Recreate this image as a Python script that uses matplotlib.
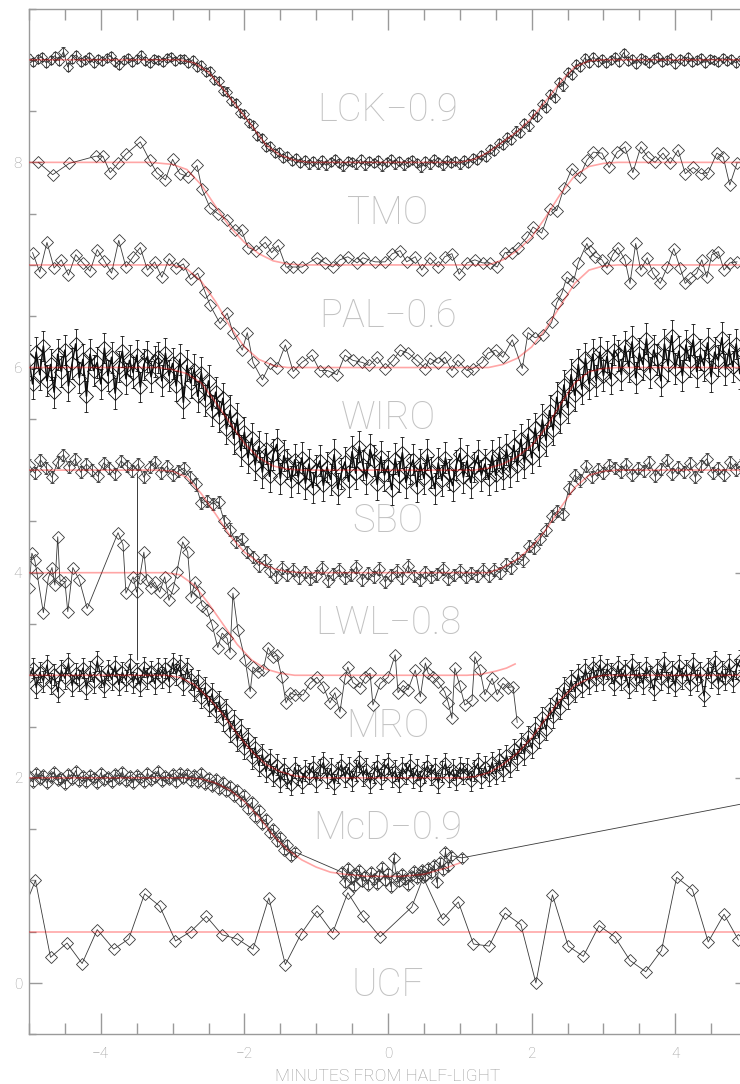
import numpy as np
import matplotlib
matplotlib.use('Agg')
import matplotlib.pyplot as plt
from matplotlib.ticker import MultipleLocator, FixedLocator

# ---------------- data ----------------
# LCK (offset -0.9), uniform sampling
LCK_t0, LCK_dt = -5.0, 0.06
LCK_y = [9.02, 8.98, 9.01, 9.03, 8.97, 9.00, 9.04, 8.99, 9.08, 8.93, 9.01, 9.05, 8.98, 9.00, 9.03, 8.97,
         9.01, 8.99, 9.02, 9.04, 8.98, 8.95, 9.00, 9.02, 8.98, 9.01, 9.05, 8.99, 8.97, 9.01, 9.00, 8.98,
         9.02, 9.03, 8.99, 9.01,
         9.01, 8.97, 9.00, 8.93, 8.95, 8.88, 8.89, 8.80, 8.79, 8.70, 8.69, 8.60, 8.58, 8.48, 8.47, 8.38,
         8.36, 8.26, 8.24, 8.15, 8.16, 8.09, 8.10, 8.04, 8.06, 8.01, 8.04, 7.99, 8.02, 7.98,
         8.01, 7.98, 8.02, 7.97, 8.00, 8.03, 7.99, 7.96, 8.01, 8.00, 7.98, 8.03, 7.97, 8.01, 7.99, 8.02,
         7.96, 8.00, 8.03, 7.98, 8.01, 7.97, 8.00, 8.02, 7.99, 7.95, 8.01, 7.98, 8.03, 8.00, 7.97, 8.02,
         7.99, 8.01, 7.98,
         8.02, 7.99, 8.04, 8.02, 8.07, 8.05, 8.13, 8.11, 8.19, 8.17, 8.25, 8.22, 8.31, 8.29, 8.38, 8.35,
         8.47, 8.44, 8.57, 8.53, 8.67, 8.63, 8.78, 8.74, 8.88, 8.85, 8.96, 8.93, 9.02, 8.97, 9.03, 8.98,
         9.01, 8.97,
         9.00, 9.03, 8.98, 9.07, 8.99, 9.01, 8.96, 9.02, 9.00, 8.97, 9.01, 9.03, 8.98, 9.00, 9.02, 8.96,
         9.01, 8.99, 9.03, 8.98, 9.00, 9.02, 8.97, 9.01, 9.00, 8.98, 9.02, 8.99, 9.01, 8.97, 9.00, 9.02]
LCK_mx = [-5.0, -2.9, -2.7, -2.5, -2.3, -2.1, -1.9, -1.7, -1.5, -1.3, -1.1, 1.0, 1.2, 1.4, 1.6, 1.8,
          2.0, 2.2, 2.4, 2.6, 2.8, 3.0, 5.0]
LCK_my = [9.0, 9.0, 8.97, 8.88, 8.72, 8.54, 8.36, 8.17, 8.07, 8.02, 8.0, 8.0, 8.03, 8.1, 8.2, 8.3,
          8.43, 8.6, 8.78, 8.93, 8.99, 9.0, 9.0]

# TMO
TMO_x = [-4.87, -4.67, -4.44, -4.07, -3.97, -3.87, -3.76, -3.65, -3.45, -3.32, -3.22, -3.10, -3.00,
         -2.90, -2.78, -2.66, -2.59, -2.48, -2.37, -2.24, -2.13, -2.04, -1.95, -1.84, -1.71, -1.62,
         -1.53, -1.42, -1.32, -1.20, -0.99, -0.88, -0.77, -0.67, -0.56, -0.43, -0.35, -0.18, -0.04,
         0.06, 0.17, 0.26, 0.38, 0.47, 0.58, 0.70, 0.79, 0.89, 0.99, 1.10, 1.21, 1.32, 1.42, 1.52,
         1.63, 1.73, 1.81, 1.94, 2.02, 2.14, 2.26, 2.35, 2.45, 2.56, 2.67, 2.77, 2.86, 2.98, 3.08,
         3.19, 3.30, 3.41, 3.52, 3.62, 3.72, 3.83, 3.93, 4.04, 4.14, 4.25, 4.36, 4.46, 4.58, 4.67,
         4.76, 4.86]
TMO_y = [8.00, 7.88, 7.99, 8.06, 8.06, 7.90, 7.99, 8.08, 8.20, 8.02, 7.90, 7.83, 8.03, 7.89, 7.86,
         7.97, 7.74, 7.56, 7.50, 7.44, 7.34, 7.34, 7.17, 7.14, 7.22, 7.12, 7.19, 6.98, 6.98, 6.98,
         7.07, 7.02, 6.98, 7.05, 7.08, 7.02, 7.07, 7.03, 7.03, 7.11, 7.14, 7.03, 7.08, 6.95, 7.07,
         6.98, 7.08, 7.11, 6.91, 7.02, 7.05, 7.02, 7.02, 6.98, 7.12, 7.12, 7.17, 7.27, 7.37, 7.31,
         7.55, 7.53, 7.75, 7.94, 7.86, 8.02, 8.10, 8.09, 7.95, 8.10, 8.15, 7.90, 8.15, 8.05, 8.00,
         8.09, 7.99, 8.12, 7.89, 7.95, 7.89, 7.90, 8.09, 8.05, 7.78, 7.99]
TMO_mx = [-5.0, -3.3, -3.0, -2.8, -2.6, -2.4, -2.2, -2.0, -1.8, -1.6, -1.4, -1.2, 1.4, 1.6, 1.8, 2.0,
          2.2, 2.4, 2.6, 2.8, 3.0, 3.2, 5.0]
TMO_my = [8.0, 8.0, 7.98, 7.93, 7.78, 7.57, 7.37, 7.22, 7.11, 7.04, 7.01, 7.0, 7.0, 7.05, 7.14, 7.27,
          7.47, 7.69, 7.87, 7.96, 7.99, 8.0, 8.0]

# PAL (offset -0.6)
PAL_x = [-4.95, -4.85, -4.75, -4.65, -4.55, -4.45, -4.35, -4.25, -4.15, -4.05, -3.95, -3.85, -3.75,
         -3.65, -3.55, -3.45, -3.35, -3.25, -3.15, -3.05, -2.95, -2.85, -2.75, -2.65, -2.55,
         -2.48, -2.34, -2.24, -2.16, -2.03, -1.96, -1.88, -1.75, -1.64, -1.55, -1.43, -1.32, -1.20,
         -1.06, -0.95, -0.84, -0.71, -0.60, -0.49, -0.36, -0.26,
         -0.15, -0.04, 0.07, 0.17, 0.28, 0.40, 0.52, 0.58, 0.70, 0.79, 0.89, 0.97, 1.10, 1.18, 1.31,
         1.39, 1.50, 1.60, 1.73, 1.87, 1.95, 2.05, 2.16, 2.28, 2.35, 2.42, 2.49, 2.58, 2.65, 2.77,
         2.81, 2.88, 2.98, 3.05, 3.13, 3.20, 3.30, 3.37, 3.45, 3.52, 3.61, 3.69, 3.79, 3.89, 3.98,
         4.07, 4.14, 4.21, 4.30, 4.37, 4.44, 4.51, 4.60, 4.68, 4.76, 4.86]
PAL_y = [7.12, 6.93, 7.22, 6.97, 7.05, 6.90, 7.10, 7.02, 6.94, 7.15, 7.04, 6.92, 7.24, 6.98, 7.08,
         7.17, 6.95, 7.03, 6.88, 7.06, 6.97, 7.01, 6.86, 6.92, 6.74,
         6.61, 6.43, 6.53, 6.34, 6.17, 6.34, 6.05, 5.88, 6.04, 6.00, 6.22, 5.96, 6.05, 6.12, 5.97,
         5.97, 5.93, 6.12, 6.07, 6.05, 6.02,
         6.10, 5.99, 6.07, 6.17, 6.14, 6.07, 5.99, 6.09, 6.04, 6.10, 5.97, 6.07, 5.97, 5.99, 6.05,
         6.14, 6.17, 6.10, 6.27, 5.99, 6.34, 6.29, 6.32, 6.44, 6.63, 6.72, 6.88, 6.83, 7.02, 7.21,
         7.14, 7.08, 7.05, 6.97, 7.10, 7.17, 7.05, 6.82, 7.21, 6.95, 7.07, 6.92, 6.82, 6.98, 7.16,
         6.97, 6.82, 6.87, 6.92, 7.05, 6.88, 7.10, 7.13, 6.95, 7.02, 7.03]
PAL_mx = [-5.0, -3.0, -2.8, -2.6, -2.4, -2.2, -2.0, -1.8, -1.6, -1.4, 1.4, 1.6, 1.8, 2.0, 2.2, 2.4,
          2.6, 2.8, 3.0, 3.2, 5.0]
PAL_my = [7.0, 7.0, 6.96, 6.84, 6.64, 6.4, 6.2, 6.08, 6.02, 6.0, 6.0, 6.03, 6.09, 6.2, 6.38, 6.6,
          6.82, 6.95, 6.99, 7.0, 7.0]

# WIRO, uniform sampling
WIRO_t0, WIRO_dt = -5.0, 0.05
WIRO_y = [6.07, 5.84, 6.15, 5.93, 6.21, 5.87, 6.03, 5.76, 6.13, 5.96, 6.17, 5.82, 6.04, 6.23, 5.90,
          6.08, 5.72, 6.13, 5.97, 6.05, 5.84, 6.19, 5.92, 6.10, 5.75, 6.01, 6.16, 5.89, 6.07, 5.95,
          6.12, 5.81, 6.03, 6.11, 5.91, 6.06,
          6.10, 5.87, 6.14, 5.92, 6.04, 5.82, 6.08, 5.66, 6.02, 5.85, 5.98, 5.72, 5.95, 5.68, 5.87,
          5.58, 5.76, 5.52, 5.70, 5.40, 5.58, 5.31, 5.50, 5.19, 5.37, 5.12, 5.31, 5.05, 5.23, 4.98,
          5.21, 4.94, 5.15, 5.25, 4.92, 5.14, 5.06, 4.89, 5.10, 4.93,
          5.12, 4.87, 5.06, 4.83, 5.00, 5.09, 4.85, 5.03, 4.91, 5.15, 4.82, 4.97, 5.08, 4.89, 5.18,
          4.97, 5.23, 5.05, 4.92, 5.20, 5.09, 4.86, 5.13, 4.95, 5.04, 4.81, 5.11, 4.94, 5.17, 4.88,
          5.01, 5.10, 4.84, 5.06, 4.92, 5.15, 4.98, 4.82, 5.07, 4.90, 5.12, 4.96, 4.85, 5.05, 5.16,
          4.93, 5.09, 4.88, 5.03, 5.14, 4.95, 5.06,
          4.91, 5.14, 4.95, 5.17, 4.97, 5.20, 4.99, 5.24, 5.04, 5.30, 5.07, 5.35, 5.12, 5.41, 5.19,
          5.49, 5.29, 5.58, 5.39, 5.71, 5.51, 5.83, 5.61, 5.93, 5.73, 6.03, 5.79, 6.09, 5.84, 6.13,
          5.87, 6.15, 5.92, 6.11, 5.89, 6.17,
          6.12, 5.93, 6.21, 6.01, 6.25, 5.90, 6.14, 6.03, 6.28, 5.95, 6.17, 6.08, 5.87, 6.23, 6.02,
          6.31, 5.99, 6.16, 5.92, 6.22, 6.06, 6.27, 5.96, 6.13, 6.02, 6.24, 5.91, 6.15, 6.07, 6.29,
          5.98, 6.18, 6.01, 6.23, 5.94, 6.14, 6.05]
WIRO_mx = [-5.0, -3.2, -3.0, -2.8, -2.6, -2.4, -2.2, -2.0, -1.8, -1.6, -1.4, -1.2, 1.2, 1.4, 1.6, 1.8,
           2.0, 2.2, 2.4, 2.6, 2.8, 3.0, 3.2, 5.0]
WIRO_my = [6.0, 6.0, 5.98, 5.94, 5.85, 5.66, 5.46, 5.26, 5.12, 5.04, 5.01, 5.0, 5.0, 5.02, 5.06, 5.13,
           5.24, 5.41, 5.64, 5.85, 5.96, 5.99, 6.0, 6.0]

# SBO, uniform sampling
SBO_t0, SBO_dt = -5.0, 0.08
SBO_y = [5.05, 4.97, 5.10, 5.02, 4.93, 5.08, 5.15, 5.03, 5.11, 4.98, 5.06, 5.00, 4.94, 5.07, 5.02,
         4.96, 5.09, 5.04, 4.99, 5.06, 4.93, 5.03, 5.08, 4.97,
         5.04, 4.95, 4.99, 5.02, 4.93, 4.86, 4.68, 4.70, 4.67, 4.69, 4.50, 4.42, 4.30, 4.33, 4.20,
         4.15, 4.07, 4.12, 4.02, 3.96, 4.05, 3.98, 4.03, 3.95,
         4.01, 3.94, 3.97, 4.05, 3.92, 3.99, 4.03, 3.95, 3.98, 4.06, 3.93, 4.00, 3.96, 4.04, 3.91,
         3.98, 4.02, 3.95, 4.07, 3.97, 3.93, 4.01, 3.96, 3.99, 4.04, 3.94, 3.98, 4.02, 3.96, 4.00,
         3.97, 4.03,
         3.97, 4.03, 4.00, 4.08, 4.05, 4.14, 4.12, 4.26, 4.24, 4.33, 4.42, 4.55, 4.60, 4.57, 4.83,
         4.95, 4.90, 5.04, 4.93, 5.01, 4.97, 5.05, 5.02,
         4.98, 5.06, 4.95, 5.02, 4.99, 5.08, 4.94, 5.01, 5.10, 4.96, 5.03, 4.98, 5.07, 4.93, 5.04,
         5.11, 4.97, 5.02, 4.95, 5.08, 5.00, 5.05, 5.12]
SBO_mx = [-5.0, -3.2, -3.0, -2.8, -2.6, -2.4, -2.2, -2.0, -1.8, -1.6, -1.4, -1.2, 1.4, 1.6, 1.8, 2.0,
          2.2, 2.4, 2.6, 2.8, 3.0, 3.2, 5.0]
SBO_my = [5.0, 5.0, 4.99, 4.93, 4.77, 4.57, 4.36, 4.2, 4.1, 4.04, 4.01, 4.0, 4.0, 4.05, 4.13, 4.25,
          4.42, 4.63, 4.83, 4.95, 4.99, 5.0, 5.0]

# LWL (offset -0.8)
LWL_x = [-5.00, -4.96, -4.92, -4.89, -4.80, -4.73, -4.68, -4.64, -4.60, -4.57, -4.50, -4.46, -4.39,
         -4.30, -4.19, -3.76, -3.69, -3.65, -3.55, -3.50, -3.46, -3.40, -3.36, -3.30, -3.25, -3.18,
         -3.11, -3.05, -2.99, -2.94, -2.86, -2.79, -2.74, -2.69, -2.63, -2.59, -2.52, -2.45, -2.37,
         -2.31, -2.24, -2.20, -2.16, -2.09, -1.99, -1.92, -1.88, -1.81, -1.74, -1.67, -1.60, -1.55,
         -1.48, -1.42, -1.36, -1.30, -1.18, -1.09, -0.99, -0.90, -0.81, -0.74, -0.67, -0.60, -0.56,
         -0.49, -0.39, -0.32, -0.25, -0.21, -0.11, 0.00, 0.10, 0.14, 0.21, 0.28, 0.38, 0.45, 0.52,
         0.56, 0.63, 0.70, 0.79, 0.84, 0.89, 0.93, 1.00, 1.07, 1.17, 1.21, 1.28, 1.35, 1.45, 1.52,
         1.60, 1.67, 1.74, 1.80]
LWL_y = [3.85, 4.19, 4.12, 4.00, 3.61, 3.95, 4.05, 3.88, 4.35, 3.93, 3.91, 3.62, 4.05, 3.93, 3.65,
         4.39, 4.27, 3.80, 3.96, 3.81, 3.95, 4.20, 3.93, 3.85, 3.91, 3.81, 3.96, 3.73, 3.85, 4.01,
         4.30, 4.20, 3.76, 3.91, 3.81, 3.68, 3.64, 3.49, 3.27, 3.41, 3.36, 3.22, 3.80, 3.44, 3.15,
         2.84, 3.08, 3.03, 3.05, 3.27, 3.18, 3.20, 2.98, 2.73, 2.83, 2.81, 2.81, 2.92, 2.98, 2.89,
         2.73, 2.83, 2.64, 2.97, 3.08, 2.93, 2.88, 2.98, 3.02, 2.71, 2.92, 2.98, 3.20, 2.83, 2.90,
         2.86, 3.05, 2.79, 3.12, 3.02, 2.98, 2.93, 2.84, 2.73, 2.58, 3.07, 2.90, 2.71, 2.76, 3.18,
         3.05, 2.81, 2.97, 2.81, 2.92, 2.88, 2.89, 2.54]
LWL_bar_x = [-3.50]
LWL_bar_lo = [3.15]
LWL_bar_hi = [4.97]
LWL_mx = [-5.0, -3.1, -2.9, -2.7, -2.5, -2.3, -2.1, -1.9, -1.7, -1.5, -1.3, 1.1, 1.3, 1.5, 1.65, 1.77]
LWL_my = [4.0, 4.0, 3.98, 3.88, 3.7, 3.5, 3.3, 3.15, 3.06, 3.02, 3.0, 3.0, 3.01, 3.04, 3.07, 3.11]

# MRO, uniform sampling
MRO_t0, MRO_dt = -5.0, 0.05
MRO_y = [2.98, 3.07, 2.88, 3.03, 2.94, 3.10, 2.92, 3.01, 2.84, 3.05, 2.97, 3.12, 2.90, 3.02, 2.95,
         3.07, 2.87, 3.04, 2.93, 3.14, 2.99, 2.89, 3.05, 2.96, 3.09, 2.91, 3.03, 2.95, 3.11, 2.93,
         3.02, 2.90, 3.08, 2.97, 3.04, 2.92, 3.07, 2.98,
         3.07, 2.94, 3.12, 3.01, 3.10, 2.91, 3.07, 2.96, 2.85, 2.95, 2.78, 2.88, 2.70, 2.82, 2.64,
         2.75, 2.56, 2.67, 2.45, 2.56, 2.36, 2.47, 2.28, 2.39, 2.19, 2.30, 2.12, 2.23, 2.06, 2.18,
         2.02, 2.13, 1.96, 2.09, 2.00, 1.93, 2.10, 2.03, 1.95, 2.07,
         2.04, 2.11, 1.96, 2.08, 2.15, 2.00, 2.09, 1.94, 2.05, 2.13, 2.01, 2.10, 1.97, 2.07, 2.16,
         2.02, 2.09, 1.95, 2.05, 2.12, 1.99, 2.08, 2.14, 2.01, 2.07, 1.96, 2.10, 2.04, 2.13, 2.00,
         2.08, 1.97, 2.05, 2.12, 2.03, 2.09, 1.95, 2.06, 2.14, 2.01, 2.08, 1.98, 2.10, 2.04,
         2.09, 1.97, 2.07, 2.14, 2.00, 2.11, 2.02, 2.15, 2.04, 2.18, 2.07, 2.22, 2.11, 2.28, 2.18,
         2.34, 2.23, 2.41, 2.29, 2.49, 2.39, 2.59, 2.47, 2.68, 2.59, 2.78, 2.67, 2.88, 2.77, 2.95,
         2.84, 3.01, 2.89, 3.06, 2.92, 3.08, 2.95, 3.10, 2.96, 3.06,
         3.02, 2.91, 3.09, 2.96, 3.05, 2.88, 3.11, 2.95, 3.03, 2.92, 3.08, 2.99, 2.86, 3.06, 2.96,
         3.13, 2.93, 3.04, 2.90, 3.10, 2.97, 3.05, 2.91, 3.12, 2.95, 3.03, 2.80, 3.07, 2.98, 3.14,
         2.92, 3.04, 2.96, 3.11, 2.94, 3.06, 3.15, 2.97, 3.05]
MRO_mx = [-5.0, -3.1, -2.9, -2.7, -2.5, -2.3, -2.1, -1.9, -1.7, -1.5, -1.3, -1.1, 1.0, 1.2, 1.4, 1.6,
          1.8, 2.0, 2.2, 2.4, 2.6, 2.8, 3.0, 5.0]
MRO_my = [3.0, 3.0, 2.98, 2.91, 2.78, 2.62, 2.43, 2.26, 2.13, 2.06, 2.02, 2.0, 2.0, 2.01, 2.05, 2.13,
          2.24, 2.39, 2.58, 2.76, 2.9, 2.97, 3.0, 3.0]

# McD (offset -0.9): uniform part, then a cluster, then two last points
McD_t0, McD_dt = -5.0, 0.05
McD_y1 = [2.02, 1.96, 2.05, 1.99, 2.03, 1.95, 2.01, 2.06, 1.98, 2.00, 1.94, 2.04, 1.99, 2.07, 1.97,
          2.02, 1.96, 2.03, 2.00, 1.95, 2.05, 1.98, 2.01, 1.96, 2.04, 1.99, 2.06, 1.97, 2.02, 1.95,
          2.03, 2.00, 1.96, 2.05, 1.98, 2.01, 2.07, 1.97, 2.02, 1.99, 2.04, 1.96, 2.05, 2.00,
          2.04, 1.97, 2.03, 1.96, 2.05, 1.94, 2.00, 1.92, 1.99, 1.89, 1.96, 1.87, 1.92, 1.82, 1.88,
          1.77, 1.83, 1.70, 1.76, 1.62, 1.69, 1.55, 1.60, 1.46, 1.50, 1.38, 1.42, 1.30, 1.35, 1.24,
          1.28]
McD_t1, McD_dt1 = -0.64, 0.04
McD_y2 = [1.08, 0.98, 1.12, 1.02, 0.95, 1.06, 1.10, 0.99, 1.04, 0.96, 1.08, 1.01, 0.97, 1.05, 1.13,
          1.00, 1.07, 0.94, 1.22, 1.03, 0.99, 1.06, 1.01, 0.96, 1.04, 1.09, 1.02, 1.06, 1.10, 1.04,
          1.12, 1.07, 1.15, 0.98, 1.18, 1.10, 1.28, 1.14, 1.24]
McD_x3 = [1.03, 6.0]
McD_y3 = [1.22, 1.89]
McD_mx = [-5.0, -2.8, -2.6, -2.4, -2.2, -2.0, -1.8, -1.6, -1.4, -1.2, -1.0, -0.8, -0.6, -0.3, 0.2,
          0.5, 0.8, 1.0]
McD_my = [2.0, 2.0, 1.99, 1.95, 1.88, 1.77, 1.62, 1.44, 1.3, 1.2, 1.13, 1.08, 1.06, 1.04, 1.04,
          1.06, 1.12, 1.17]

# UCF
UCF_x = [-5.13, -4.91, -4.70, -4.47, -4.26, -4.05, -3.82, -3.61, -3.39, -3.18, -2.96, -2.75, -2.53,
         -2.31, -2.10, -1.88, -1.66, -1.43, -1.21, -0.99, -0.77, -0.56, -0.35, -0.11, 0.33, 0.49,
         0.76, 0.98, 1.19, 1.41, 1.63, 1.85, 2.06, 2.29, 2.51, 2.72, 2.94, 3.16, 3.37, 3.59, 3.81,
         4.02, 4.24, 4.46, 4.68, 4.88]
UCF_y = [0.62, 1.00, 0.25, 0.39, 0.19, 0.52, 0.33, 0.43, 0.87, 0.75, 0.41, 0.50, 0.65, 0.47, 0.43,
         0.33, 0.83, 0.18, 0.48, 0.70, 0.49, 0.88, 0.65, 0.45, 0.74, 1.03, 0.62, 0.79, 0.38, 0.36,
         0.68, 0.57, 0.00, 0.86, 0.36, 0.26, 0.56, 0.45, 0.22, 0.11, 0.32, 1.03, 0.91, 0.40, 0.67,
         0.42]
UCF_mx = [-5.0, 5.0]
UCF_my = [0.5, 0.5]

labels = ['LCK\u22120.9', 'TMO', 'PAL\u22120.6', 'WIRO', 'SBO', 'LWL\u22120.8', 'MRO', 'McD\u22120.9', 'UCF']
label_y = [8.51, 7.5, 6.5, 5.51, 4.5, 3.51, 2.5, 1.51, -0.02]

# ---------------- figure ----------------
W, H = 740, 1084
fig = plt.figure(figsize=(W / 100, H / 100), dpi=100)
ax = fig.add_axes([29 / W, 1 - 1034.3 / H, (747 - 29) / W, (1034.3 - 8.5) / H])
ax.set_xlim(-5, 5)
ax.set_ylim(-0.5, 9.5)

GRAY = '#9a9a9a'
DATA = '#3a3a3a'
FONT = ['Roboto', 'DejaVu Sans']

def grid(t0, dt, y):
    return t0 + dt * np.arange(len(y))

def series(x, y, err=None, ms=6.0, lw=0.6, z=2, color=DATA):
    if err is None:
        ax.plot(x, y, '-', color=color, lw=lw, marker='D', ms=ms, mfc='none', mec=color,
                mew=0.6, zorder=z)
    else:
        ax.errorbar(x, y, yerr=err, fmt='-', color=color, lw=lw, marker='D', ms=ms, mfc='none',
                    mec=color, mew=0.6, elinewidth=0.6, ecolor=color, capsize=1.5, zorder=z)

def model(mx, my):
    ax.plot(mx, my, '-', color='red', alpha=0.35, lw=1.2, zorder=6)

series(grid(LCK_t0, LCK_dt, LCK_y), LCK_y, err=0.04, ms=5.5, color='#333333')
model(LCK_mx, LCK_my)
series(TMO_x, TMO_y)
model(TMO_mx, TMO_my)
series(PAL_x, PAL_y)
model(PAL_mx, PAL_my)
series(grid(WIRO_t0, WIRO_dt, WIRO_y), WIRO_y, err=0.15, ms=7.5, lw=1.1, color='#0d0d0d')
model(WIRO_mx, WIRO_my)
series(grid(SBO_t0, SBO_dt, SBO_y), SBO_y, err=0.06)
model(SBO_mx, SBO_my)
series(LWL_x, LWL_y)
ax.vlines(LWL_bar_x, LWL_bar_lo, LWL_bar_hi, color=DATA, lw=0.7, zorder=2)
model(LWL_mx, LWL_my)
series(grid(MRO_t0, MRO_dt, MRO_y), MRO_y, err=0.1, ms=6.5, lw=0.9, color='#151515')
model(MRO_mx, MRO_my)
McD_x = np.concatenate([grid(McD_t0, McD_dt, McD_y1), grid(McD_t1, McD_dt1, McD_y2), McD_x3])
McD_yall = np.concatenate([McD_y1, McD_y2, McD_y3])
series(McD_x, McD_yall, err=0.04, ms=6.0)
model(McD_mx, McD_my)
series(UCF_x, UCF_y)
model(UCF_mx, UCF_my)

for lab, ly in zip(labels, label_y):
    ax.text(0.0, ly, lab, ha='center', va='center', fontsize=27.5, color='#c2c2c2',
            family=FONT, fontweight='light', zorder=1)

# axes styling
for sp in ax.spines.values():
    sp.set_color(GRAY)
    sp.set_linewidth(1.0)
ax.xaxis.set_major_locator(FixedLocator([-4, -2, 0, 2, 4]))
ax.xaxis.set_minor_locator(MultipleLocator(0.5))
ax.yaxis.set_major_locator(FixedLocator([0, 2, 4, 6, 8]))
ax.yaxis.set_minor_locator(MultipleLocator(0.5))
ax.tick_params(axis='both', which='both', direction='in', top=True, right=True, color=GRAY,
               width=1.0, labelcolor=GRAY)
ax.tick_params(axis='x', which='major', length=15, pad=9, labelsize=11)
ax.tick_params(axis='x', which='minor', length=8)
ax.tick_params(axis='y', which='major', length=9, pad=5, labelsize=11)
ax.tick_params(axis='y', which='minor', length=5)
for t in ax.get_xticklabels() + ax.get_yticklabels():
    t.set_family(FONT)
    t.set_fontweight('light')
ax.set_xlabel('MINUTES FROM HALF-LIGHT', fontsize=12.5, color=GRAY, family=FONT,
              fontweight='light', labelpad=6)

fig.savefig('out.png', dpi=100)
